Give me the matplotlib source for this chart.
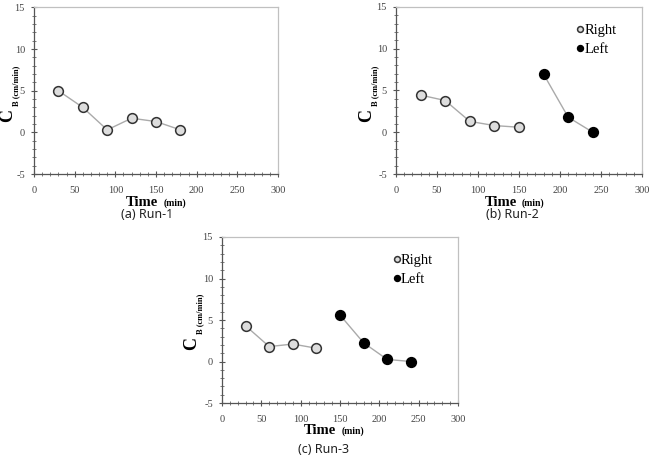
import numpy as np
import matplotlib.pyplot as plt
from matplotlib.ticker import MultipleLocator

plt.rcParams['font.family'] = ['Liberation Serif', 'DejaVu Serif']
plt.rcParams['axes.unicode_minus'] = False

# Run-1 (right side only)
run1_t_right = [30, 60, 90, 120, 150, 180]
run1_cb_right = [5.0, 3.0, 0.3, 1.7, 1.3, 0.3]

# Run-2
run2_t_right = [30, 60, 90, 120, 150]
run2_cb_right = [4.45, 3.8, 1.3, 0.8, 0.6]
run2_t_left = [180, 210, 240]
run2_cb_left = [6.95, 1.8, 0.0]

# Run-3
run3_t_right = [30, 60, 90, 120]
run3_cb_right = [4.3, 1.8, 2.1, 1.6]
run3_t_left = [150, 180, 210, 240]
run3_cb_left = [5.6, 2.25, 0.25, 0.0]

captions = ['(a) Run-1', '(b) Run-2', '(c) Run-3']

W, H = 649, 461
fig = plt.figure(figsize=(W / 100, H / 100), dpi=100)


def fx(x):
    return x / W


def fy(y):
    return 1 - y / H


def px_axes(left, right, top, bottom):
    return fig.add_axes([left / W, 1 - bottom / H, (right - left) / W, (bottom - top) / H])


def style(ax):
    ax.set_xlim(0, 300)
    ax.set_ylim(-5, 15)
    ax.xaxis.set_major_locator(MultipleLocator(50))
    ax.xaxis.set_minor_locator(MultipleLocator(10))
    ax.yaxis.set_major_locator(MultipleLocator(5))
    ax.yaxis.set_minor_locator(MultipleLocator(1))
    ax.tick_params(which='major', direction='inout', length=5, width=0.8,
                   color='#555555', labelsize=7.5, labelcolor='#444444', pad=6)
    ax.tick_params(axis='y', which='major', pad=4)
    ax.tick_params(which='minor', direction='inout', length=3, width=0.6, color='#666666')
    for s in ['left', 'bottom']:
        ax.spines[s].set_color('#555555')
        ax.spines[s].set_linewidth(0.9)
    for s in ['top', 'right']:
        ax.spines[s].set_color('#c0c0c0')
        ax.spines[s].set_linewidth(0.9)


def ylabel(cx, cy):
    # big "C" and the small subscript "B (cm/min)", both turned upright
    fig.text(fx(cx), fy(cy), 'C', fontsize=13, fontweight='bold', rotation=90,
             rotation_mode='anchor', ha='left', va='baseline')
    fig.text(fx(cx + 6), fy(cy - 16), 'B (cm/min)', fontsize=6, fontweight='bold',
             rotation=90, rotation_mode='anchor', ha='left', va='baseline')


def draw(ax, t, cb, filled):
    ax.plot(t, cb, '-', color='#aaaaaa', linewidth=1, zorder=1)
    ax.plot(t, cb, 'o', markersize=7,
            markerfacecolor='black' if filled else '#dddddd',
            markeredgecolor='black' if filled else '#333333',
            markeredgewidth=1.1, linestyle='none', zorder=2,
            label='Left' if filled else 'Right')


def xlabel(x_time, x_min, y):
    fig.text(fx(x_time), fy(y), 'Time', fontsize=10.5, fontweight='bold',
             ha='center', va='center')
    fig.text(fx(x_min), fy(y + 1.5), '(min)', fontsize=7, fontweight='bold',
             ha='center', va='center')


def legend(ax):
    ax.legend(loc='upper right', bbox_to_anchor=(0.95, 0.98), frameon=False,
              handlelength=0.5, handletextpad=0.05, markerscale=0.6,
              labelspacing=0.4, prop={'size': 10.5})


# (a)
ax1 = px_axes(34, 278, 7.5, 174)
style(ax1)
draw(ax1, run1_t_right, run1_cb_right, False)
ylabel(12, 122)
xlabel(142, 175, 202)

# (b)
ax2 = px_axes(396, 642, 7, 174)
style(ax2)
draw(ax2, run2_t_right, run2_cb_right, False)
draw(ax2, run2_t_left, run2_cb_left, True)
legend(ax2)
ylabel(371, 122)
xlabel(501, 533, 202)

# (c)
ax3 = px_axes(222, 458, 237, 403)
style(ax3)
draw(ax3, run3_t_right, run3_cb_right, False)
draw(ax3, run3_t_left, run3_cb_left, True)
legend(ax3)
ylabel(196, 350)
xlabel(320, 353, 430)

for (x, y), cap in zip([(147, 214), (512, 214), (324, 449)], captions):
    fig.text(fx(x), fy(y), cap, fontsize=9, family=['Noto Sans', 'DejaVu Sans'],
             ha='center', va='center', color='#222222')

fig.savefig('out.png', dpi=100)
